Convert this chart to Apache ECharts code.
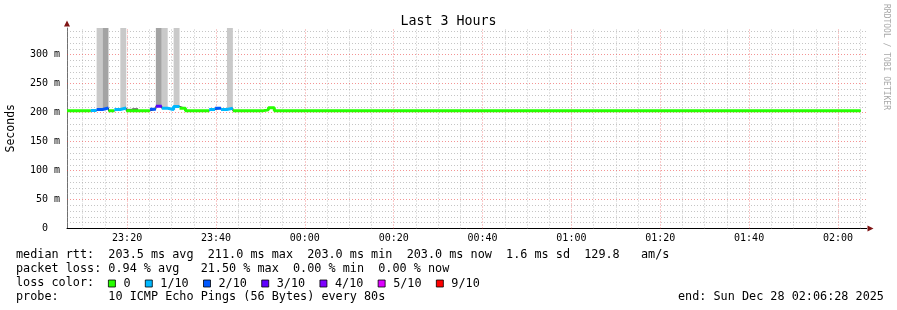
<!DOCTYPE html>
<html><head><meta charset="utf-8">
<script src="https://cdn.jsdelivr.net/npm/echarts@6/dist/echarts.min.js"></script>
<style>html,body{margin:0;padding:0;background:#fff}#c{width:897px;height:310px}</style>
</head><body><div id="c"></div>
<script>
// ---- data ----
const chartTitle = 'Last 3 Hours';
const startTime = '23:06:28';
const endTime = '02:06:28';
const stepSeconds = 80;
// median RTT per 80 s step, in ms
const medianRtt = [
  203, 203, 203, 203, 203.8, 205.5, 207.8, 203, 205.5, 207.8,
  203, 203, 203, 203, 205.8, 211, 207.5, 205.5, 210.5, 207.5,
  203, 203, 203, 203, 205.5, 207.5, 205.5, 207.5, 203, 203,
  203, 203, 203, 205, 208.5, 203, 203, 203, 203, 203,
  203, 203, 203, 203, 203, 203, 203, 203, 203, 203,
  203, 203, 203, 203, 203, 203, 203, 203, 203, 203,
  203, 203, 203, 203, 203, 203, 203, 203, 203, 203,
  203, 203, 203, 203, 203, 203, 203, 203, 203, 203,
  203, 203, 203, 203, 203, 203, 203, 203, 203, 203,
  203, 203, 203, 203, 203, 203, 203, 203, 203, 203,
  203, 203, 203, 203, 203, 203, 203, 203, 203, 203,
  203, 203, 203, 203, 203, 203, 203, 203, 203, 203,
  203, 203, 203, 203, 203, 203, 203, 203, 203, 203,
  203, 203, 203, 203
];
// lost pings (out of 10) per step
const lossTenths = [
  0, 0, 0, 0, 1, 2, 2, 0, 1, 1,
  0, 0, 0, 0, 2, 3, 1, 1, 1, 0,
  0, 0, 0, 0, 1, 2, 1, 1, 0, 0,
  0, 0, 0, 0, 0, 0, 0, 0, 0, 0,
  0, 0, 0, 0, 0, 0, 0, 0, 0, 0,
  0, 0, 0, 0, 0, 0, 0, 0, 0, 0,
  0, 0, 0, 0, 0, 0, 0, 0, 0, 0,
  0, 0, 0, 0, 0, 0, 0, 0, 0, 0,
  0, 0, 0, 0, 0, 0, 0, 0, 0, 0,
  0, 0, 0, 0, 0, 0, 0, 0, 0, 0,
  0, 0, 0, 0, 0, 0, 0, 0, 0, 0,
  0, 0, 0, 0, 0, 0, 0, 0, 0, 0,
  0, 0, 0, 0, 0, 0, 0, 0, 0, 0,
  0, 0, 0, 0
];
const lossNames = ['0', '1/10', '2/10', '3/10', '4/10', '5/10', '9/10'];
const lossLevels = [0, 1, 2, 3, 4, 5, 9];
const lossColors = ['#26ff00', '#00b8ff', '#0059ff', '#5e00ff', '#7e00ff', '#dd00ff', '#ff0000'];
// smoke (ping spread) per step
const smokeStep  = [5, 6, 9, 15, 16, 18, 27, 10, 11];
const smokeLow   = [205.5, 207.8, 207.8, 211, 207.5, 210.5, 207.5, 203, 203];
const smokeHigh  = [346, 346, 346, 346, 346, 346, 346, 206.5, 207.5];
const smokeDepth = [1, 2, 1, 2, 1, 1, 1, 3, 3];
const xTickLabels = ['23:20', '23:40', '00:00', '00:20', '00:40', '01:00', '01:20', '01:40', '02:00'];
const yTickValues = [0, 50, 100, 150, 200, 250, 300];
const statLines = [
  'median rtt:  203.5 ms avg  211.0 ms max  203.0 ms min  203.0 ms now  1.6 ms sd  129.8   am/s',
  'packet loss: 0.94 % avg   21.50 % max  0.00 % min  0.00 % now',
  'loss color:',
  'probe:       10 ICMP Echo Pings (56 Bytes) every 80s'
];
const endLine = 'end: Sun Dec 28 02:06:28 2025';

// ---- helpers ----
function toSec(s) { const p = s.split(':').map(Number); let v = p[0] * 3600 + p[1] * 60 + (p[2] || 0); if (p[0] >= 12) v -= 86400; return v; }
function fmt(v) { let s = ((v % 86400) + 86400) % 86400; const h = Math.floor(s / 3600), m = Math.round((s % 3600) / 60); return String(h).padStart(2, '0') + ':' + String(m).padStart(2, '0'); }
const xMin = toSec(startTime), xMax = toSec(endTime);
const yMax = 346;
const n = medianRtt.length;
const tAt = i => xMin + i * stepSeconds;
const MONO = '"DejaVu Sans Mono", monospace';
const shade = {1: '#c9c9c9', 2: '#a3a3a3', 3: '#555555'};

const medianData = medianRtt.map((v, i) => [tAt(i), v]);
medianData.push([tAt(n), medianRtt[n - 1]]);

const lossSeries = lossNames.map((name, k) => {
  const data = [];
  for (let i = 0; i < n; i++) {
    if (lossTenths[i] !== lossLevels[k]) continue;
    data.push([tAt(i), medianRtt[i]]);
    if (i + 1 >= n || lossTenths[i + 1] !== lossLevels[k]) {
      data.push([tAt(i + 1), medianRtt[i]]);
      data.push([tAt(i + 1), '-']);
    }
  }
  return {
    name, type: 'line', step: 'end', data, color: lossColors[k],
    itemStyle: {color: lossColors[k]},
    lineStyle: {width: 3, color: lossColors[k]}, symbol: 'none', showSymbol: false,
    connectNulls: false, z: 4, silent: true, animation: false
  };
});

// grid lines (markLine on the median series)
const gridLines = [];
for (let t = Math.ceil(xMin / 300) * 300; t < xMax; t += 300) {
  const major = ((t % 1200) + 1200) % 1200 === 0;
  gridLines.push({xAxis: t, lineStyle: {color: major ? 'rgba(235,60,60,0.55)' : 'rgba(150,150,150,0.55)', type: [1, 2], width: 1}});
}
for (let v = 10; v < yMax; v += 10) {
  const major = v % 50 === 0;
  gridLines.push({yAxis: v, lineStyle: {color: major ? 'rgba(235,60,60,0.55)' : 'rgba(150,150,150,0.55)', type: [1, 2], width: 1}});
}

const chart = echarts.init(document.getElementById('c'), null, {renderer: 'canvas'});
const textEls = statLines.map((s, i) => ({
  type: 'text', left: 16, top: 249 + i * 13.9, silent: true,
  style: {text: s, font: '11.8px ' + MONO, fill: '#000'}
}));
textEls.push({type: 'text', left: 678, top: 249 + 3 * 13.9, silent: true, style: {text: endLine, font: '11.8px ' + MONO, fill: '#000'}});
textEls.push({type: 'text', x: 890, y: 4, rotation: -Math.PI / 2, silent: true,
  style: {text: 'RRDTOOL / TOBI OETIKER', font: '8px ' + MONO, fill: '#a8a8a8', textAlign: 'left', textVerticalAlign: 'top'}});
textEls.push({type: 'polygon', silent: true, shape: {points: [[64, 26.5], [70, 26.5], [67, 20.5]]}, style: {fill: '#7f1414'}});
textEls.push({type: 'polygon', silent: true, shape: {points: [[867.5, 225.5], [867.5, 231.5], [873.5, 228.5]]}, style: {fill: '#7f1414'}});

chart.setOption({
  animation: false,
  backgroundColor: '#ffffff',
  title: {text: chartTitle, left: 'center', top: 10, textStyle: {fontFamily: MONO, fontSize: 13.3, fontWeight: 'normal', color: '#000'}},
  grid: {left: 67, right: 30.3, top: 28, bottom: 81.5, containLabel: false, outerBoundsMode: 'none'},
  legend: {
    data: lossNames, left: 108, top: 277.5, icon: 'rect', itemWidth: 7, itemHeight: 7, itemGap: 14.4,
    selectedMode: false, padding: 0,
    itemStyle: {borderColor: '#000', borderWidth: 0.8},
    textStyle: {fontFamily: MONO, fontSize: 11.8, color: '#000', padding: [0, 0, 0, 3]}
  },
  xAxis: {
    type: 'value', min: xMin, max: xMax,
    axisLine: {show: true, onZero: false, lineStyle: {color: '#000', width: 1}},
    axisTick: {show: false},
    splitLine: {show: false},
    axisLabel: {customValues: xTickLabels.map(toSec), formatter: v => fmt(v), fontFamily: MONO, fontSize: 10, color: '#000', margin: 5}
  },
  yAxis: {
    type: 'value', min: 0, max: yMax, interval: 50,
    axisLine: {show: true, onZero: false, lineStyle: {color: '#707070', width: 1}},
    axisTick: {show: false},
    splitLine: {show: false},
    axisLabel: {customValues: yTickValues, formatter: v => v === 0 ? '0  ' : v + ' m', margin: 7, fontFamily: MONO, fontSize: 10, color: '#000'},
    name: 'Seconds', nameLocation: 'middle', nameRotate: 90, nameGap: 50,
    nameTextStyle: {fontFamily: MONO, fontSize: 11.5, color: '#000'}
  },
  graphic: textEls,
  series: [
    {
      type: 'custom', silent: true, z: 2,
      data: smokeStep.map((s, j) => [tAt(s), tAt(s + 1), smokeLow[j], smokeHigh[j], smokeDepth[j]]),
      encode: {x: [0, 1], y: [2, 3]},
      renderItem: (params, api) => {
        const p0 = api.coord([api.value(0), api.value(3)]);
        const p1 = api.coord([api.value(1), api.value(2)]);
        return {type: 'rect', shape: {x: p0[0], y: p0[1], width: p1[0] - p0[0], height: p1[1] - p0[1]}, style: {fill: shade[api.value(4)]}};
      }
    },
    {
      name: 'median', type: 'line', step: 'end', data: medianData, symbol: 'none', showSymbol: false,
      lineStyle: {width: 1, color: '#202020'}, z: 3, silent: true,
      markLine: {silent: true, symbol: 'none', z: 1, label: {show: false}, animation: false, data: gridLines}
    },
    ...lossSeries
  ]
});
</script>
</body></html>
